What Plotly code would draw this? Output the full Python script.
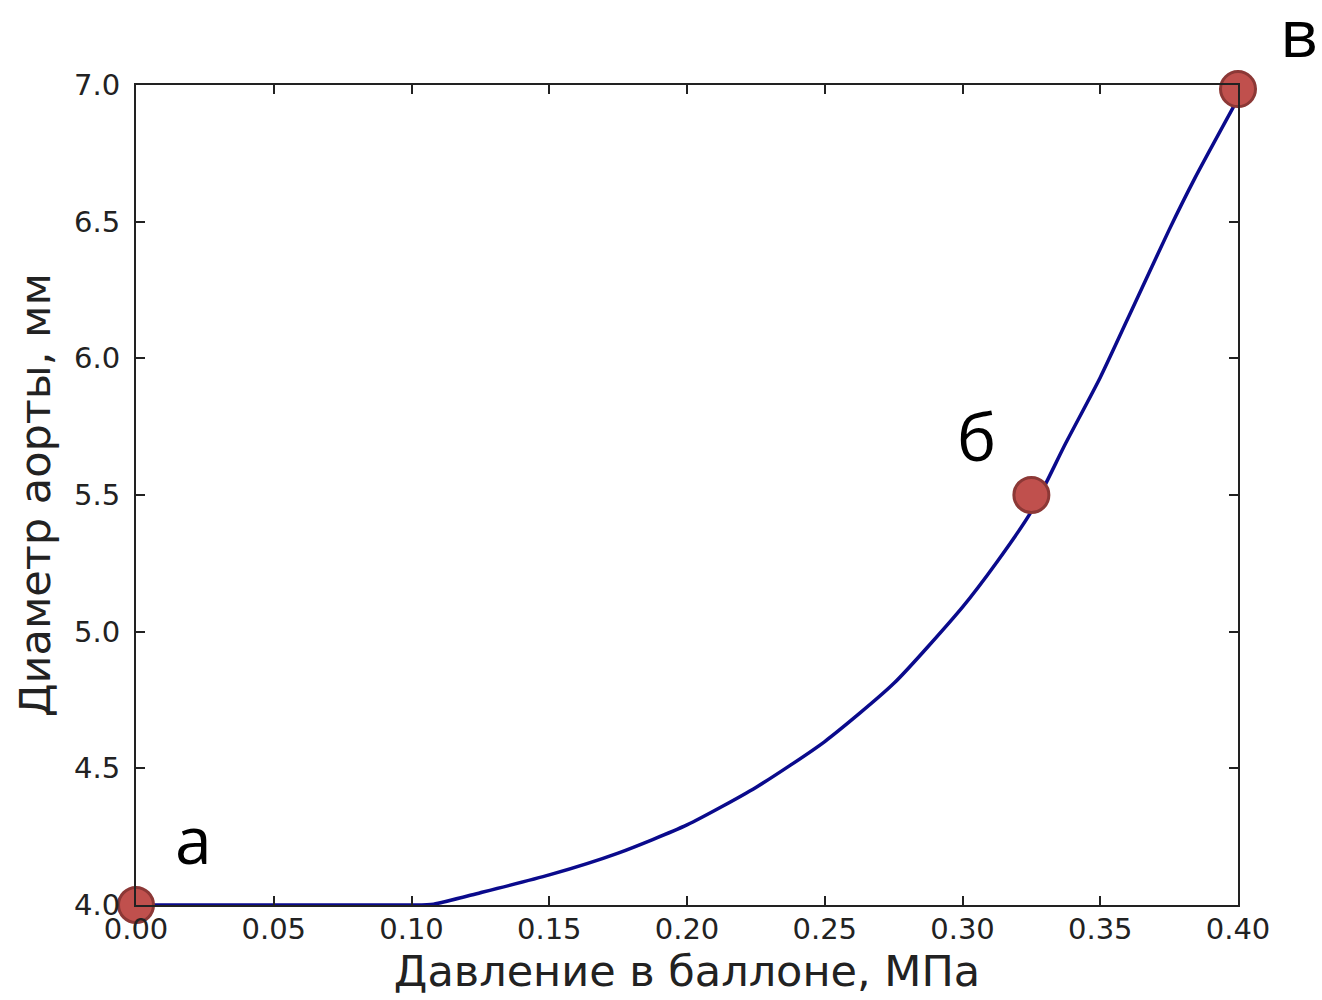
import plotly.graph_objects as go

# Curve data (pressure, MPa -> aorta diameter, mm)
pressure = [0.00, 0.05, 0.10, 0.108, 0.125, 0.15, 0.175, 0.20, 0.225, 0.25,
            0.275, 0.30, 0.3125, 0.325, 0.3375, 0.35, 0.3625, 0.375, 0.3844, 0.40]
diameter = [4.00, 4.00, 4.00, 4.003, 4.045, 4.11, 4.19, 4.293, 4.43, 4.598,
            4.81, 5.09, 5.255, 5.44, 5.69, 5.93, 6.20, 6.47, 6.66, 6.95]

# Highlighted points
point_x = [0.00, 0.325, 0.40]
point_y = [4.00, 5.50, 6.985]
point_labels = ["а", "б", "в"]
label_x = [0.021, 0.305, 0.422]
label_y = [4.245, 5.72, 7.198]

x_range = [0.0, 0.40]
y_range = [4.0, 7.0]
x_ticks = [0.00, 0.05, 0.10, 0.15, 0.20, 0.25, 0.30, 0.35, 0.40]
y_ticks = [4.0, 4.5, 5.0, 5.5, 6.0, 6.5, 7.0]

fig = go.Figure()
fig.add_trace(go.Scatter(
    x=pressure, y=diameter, mode="lines",
    line=dict(color="#0a0a8c", width=3.5, shape="spline", smoothing=0.6),
    showlegend=False,
))
fig.add_trace(go.Scatter(
    x=point_x, y=point_y, mode="markers", cliponaxis=False,
    marker=dict(size=35, color="#c0504d", line=dict(color="#8c3836", width=3)),
    showlegend=False,
))
for lx, ly, t in zip(label_x, label_y, point_labels):
    px = (lx - x_range[0]) / (x_range[1] - x_range[0])
    py = (ly - y_range[0]) / (y_range[1] - y_range[0])
    fig.add_annotation(x=px, y=py, xref="paper", yref="paper", text=t,
                       showarrow=False, height=58, valign="middle",
                       font=dict(family="Open Sans", size=66, color="black"),
                       xanchor="center", yanchor="middle")

axis_common = dict(
    showline=True, linecolor="#222", linewidth=2, mirror="ticks",
    ticks="inside", ticklen=9, tickwidth=2, tickcolor="#222",
    showgrid=False, zeroline=False,
    tickfont=dict(family="DejaVu Sans", size=29, color="#222"),
)
fig.update_xaxes(range=x_range, tickvals=x_ticks, tickformat=".2f",
                 ticklabelstandoff=-3,
                 title=dict(text="Давление в баллоне, МПа", standoff=10,
                            font=dict(family="DejaVu Sans", size=43, color="#222")),
                 **axis_common)
fig.update_yaxes(range=y_range, tickvals=y_ticks, tickformat=".1f",
                 ticklabelstandoff=8,
                 title=dict(text="Диаметр аорты, мм", standoff=10,
                            font=dict(family="DejaVu Sans", size=43, color="#222")),
                 **axis_common)
fig.update_layout(
    width=1322, height=1000,
    margin=dict(l=136, r=84, t=85, b=95),
    paper_bgcolor="white", plot_bgcolor="white",
)
fig.write_html("out.html")
